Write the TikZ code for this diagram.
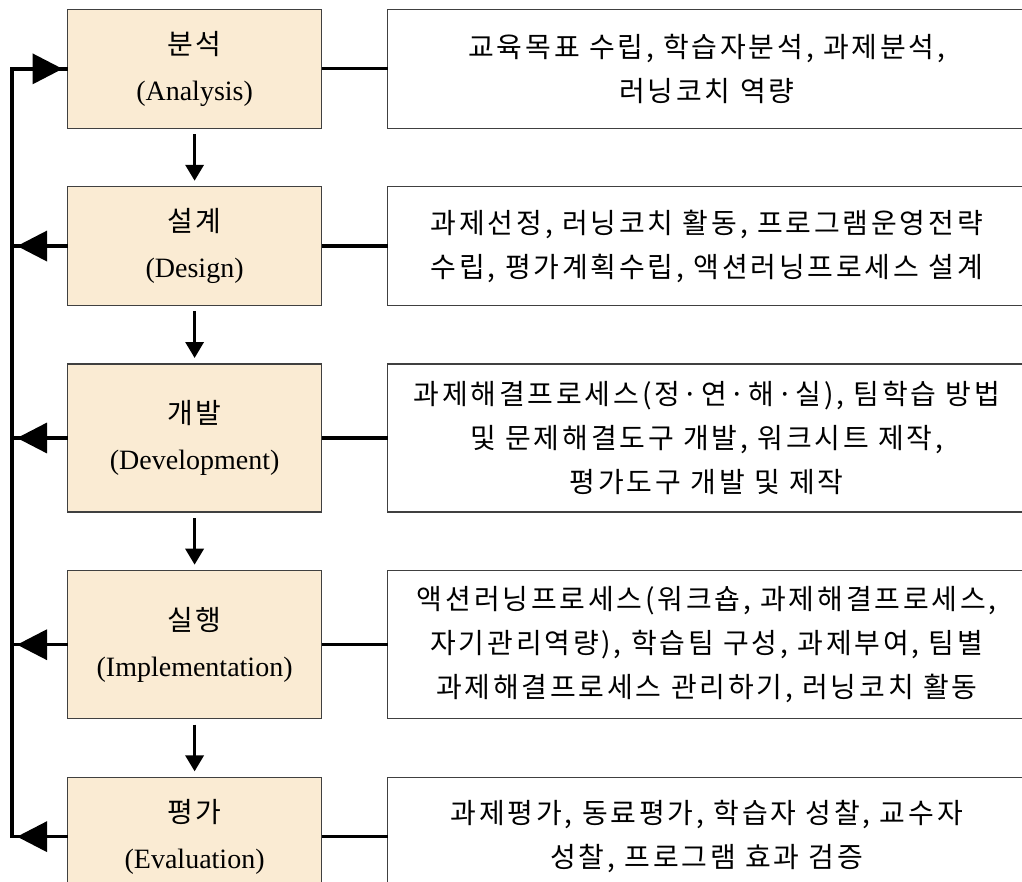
\documentclass[tikz,border=0pt]{standalone}
\usepackage{fontspec}
\setmainfont{Liberation Serif}
\newfontfamily\kr[WordSpace=3, LetterSpace=10]{Noto Sans CJK KR}
\usepackage{tikz}
\usetikzlibrary{matrix,chains,scopes,arrows.meta}

\definecolor{stagefill}{HTML}{FAEBD3}

\tikzset{
    link/.style={line width=1.6pt},
    flow/.style={line width=1.7pt, -{Triangle[length=8pt,width=9pt]},
                 shorten <=3pt, shorten >=3pt},
    busline/.style={line width=1.7pt, line join=miter},
    feedback/.style={busline, -{Triangle[length=15pt,width=15pt]}, shorten >=2.5pt}
}

\begin{document}
\begin{tikzpicture}[x=1pt,y=1pt]
            \useasboundingbox (0,0) rectangle (511,-441);
            \clip (0,0) rectangle (511,-441);

            \matrix (m) [
                matrix of nodes,
                matrix anchor=north west,
                inner sep=0pt, outer sep=0pt,
                column sep=32.5pt,
                row sep=28.75pt,
                nodes={
                    draw=black!75,
                    line width=0.6pt,
                    anchor=center,
                    align=center,
                    inner sep=0pt,
                    minimum height=59.25pt
                },
                column 1/.style={nodes={fill=stagefill, text width=127pt,
                                        font=\fontsize{14}{23}\selectfont}},
                column 2/.style={nodes={fill=white, text width=319pt,
                                        font=\kr\fontsize{14}{22}\selectfont}},
                row 3/.style={nodes={minimum height=74pt}},
                row 4/.style={nodes={minimum height=74pt}}
            ] at (33.5,-4.5) {
                {{\kr 분석}\\(Analysis)}           & {교육목표 수립, 학습자분석, 과제분석,\\러닝코치 역량} \\
                {{\kr 설계}\\(Design)}             & {과제선정, 러닝코치 활동, 프로그램운영전략\\수립, 평가계획수립, 액션러닝프로세스 설계} \\
                {{\kr 개발}\\(Development)}        & {과제해결프로세스(정·연·해·실), 팀학습 방법\\및 문제해결도구 개발, 워크시트 제작,\\평가도구 개발 및 제작} \\
                {{\kr 실행}\\(Implementation)}     & {액션러닝프로세스(워크숍, 과제해결프로세스,\\자기관리역량), 학습팀 구성, 과제부여, 팀별\\과제해결프로세스 관리하기, 러닝코치 활동} \\
                {{\kr 평가}\\(Evaluation)}         & {과제평가, 동료평가, 학습자 성찰, 교수자\\성찰, 프로그램 효과 검증} \\
            };

            { [start chain,every on chain/.style={join}, every join/.style={flow}]
                \chainin (m-1-1);
                \chainin (m-2-1);
                \chainin (m-3-1);
                \chainin (m-4-1);
                \chainin (m-5-1);
            };

            % stage -> tasks
            \foreach \i in {1,...,5}
                \draw[link] (m-\i-1) -- (m-\i-2);

            % feedback bus on the left
            \coordinate (bus) at (6,0);
            \draw[busline] (m-5-1.west) -- (bus |- m-5-1.west) -- (bus |- m-1-1.west) -- (m-1-1.west);
            \draw[feedback] (bus |- m-1-1.west) -- (m-1-1.west);
            \foreach \i in {2,...,4}
                \draw[busline] (m-\i-1.west) -- (bus |- m-\i-1.west);
            \foreach \i in {2,...,5}
                \draw[feedback] (m-\i-1.west) -- (bus |- m-\i-1.west);

        \end{tikzpicture}
\end{document}
